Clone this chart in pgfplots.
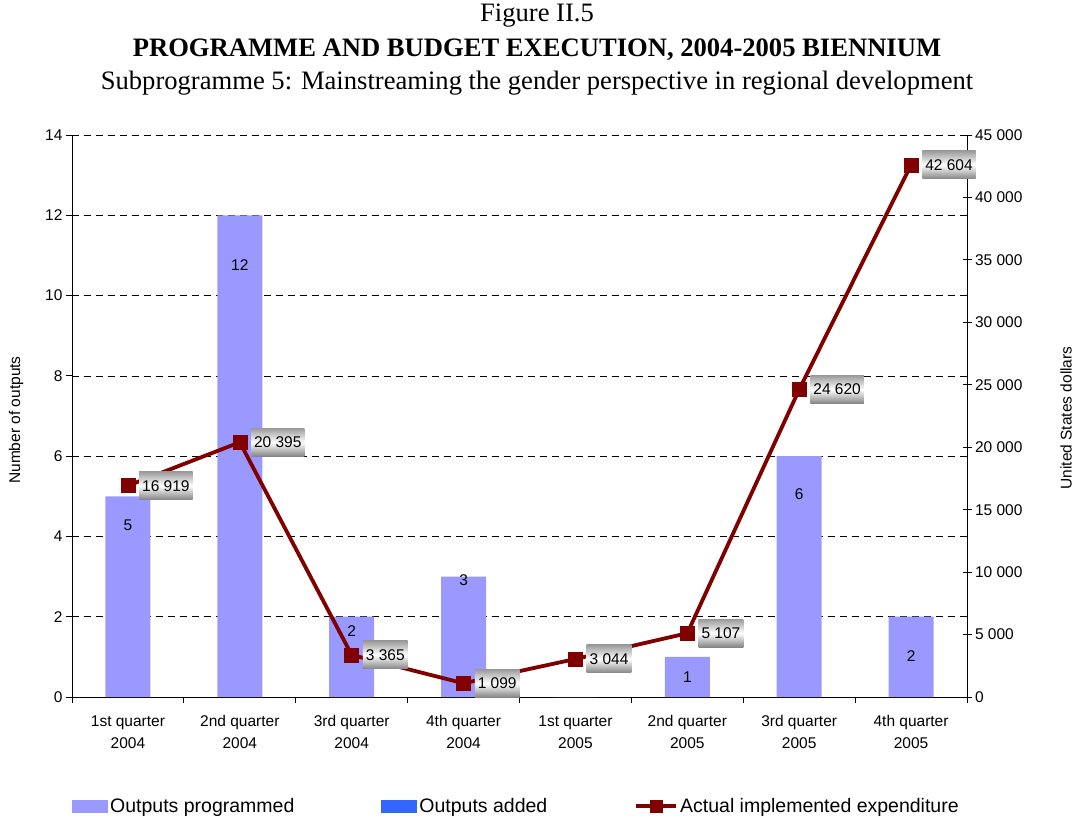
\documentclass[border=0pt]{standalone}
\usepackage{fontspec}
\setmainfont{Liberation Sans}
\newfontfamily\timesfont{Liberation Serif}
\usepackage{pgfplots}
\pgfplotsset{compat=1.18}
\definecolor{barprog}{RGB}{153,153,255}
\definecolor{baradd}{RGB}{51,102,255}
\definecolor{linered}{RGB}{128,0,0}
\definecolor{boxgray}{RGB}{155,155,155}
\newcommand\axfont{\fontsize{15.5bp}{18bp}\selectfont}
\pgfplotsset{
  boxlegend/.style={legend image code/.code={\fill[##1] (0bp,-6.5bp) rectangle (36bp,6.5bp);}},
  linelegend/.style={legend image code/.code={\draw[mark repeat=2,mark phase=2,##1] plot coordinates {(0bp,0bp) (20bp,0bp) (40bp,0bp)};}},
}
\begin{document}
\begin{tikzpicture}
\useasboundingbox (-72bp,-121bp) rectangle (1002bp,697bp);
\begin{axis}[
  at={(0,0)}, anchor=south west,
  scale only axis, width=895bp, height=562bp,
  xmin=-0.5, xmax=7.5, ymin=0, ymax=14,
  axis y line*=left, axis x line*=bottom,
  axis line style={-, line width=0.8bp},
  xtick={-0.5,0.5,...,7.5},
  xticklabels={,,,,,,,,,},
  extra x ticks={0,1,2,3,4,5,6,7},
  extra x tick labels={{1st quarter\\2004},{2nd quarter\\2004},{3rd quarter\\2004},{4th quarter\\2004},{1st quarter\\2005},{2nd quarter\\2005},{3rd quarter\\2005},{4th quarter\\2005}},
  extra x tick style={tick style={draw=none}},
  xticklabel style={align=center, yshift=-9bp, font=\fontsize{15.5bp}{22bp}\selectfont},
  ytick={0,2,...,14},
  yticklabel style={font=\axfont},
  /pgf/number format/assume math mode=true,
  tick align=outside, major tick length=6bp,
  tick style={line width=0.8bp, black},
  ymajorgrids,
  major grid style={black, line width=0.7bp, dash pattern=on 7bp off 5bp},
  legend columns=3,
  legend cell align=left,
  legend style={at={(0,-0.194)}, anchor=west, draw=none, fill=none, inner sep=0pt,
    font=\fontsize{19.5bp}{22bp}\selectfont,
    /tikz/every even column/.append style={column sep=85bp}},
  clip=false,
]
\addplot[ybar, bar width=45bp, fill=barprog, draw=none, boxlegend]
  coordinates {(0,5) (1,12) (2,2) (3,3) (4,0) (5,1) (6,6) (7,2)};
\addlegendentry{Outputs programmed}
\addlegendimage{boxlegend, fill=baradd, draw=none}
\addlegendentry{Outputs added}
\addlegendimage{linelegend, linered, line width=3.8bp, mark=square*, mark size=6bp, mark options={line width=0.5bp}}
\addlegendentry{Actual implemented expenditure}
\addplot[forget plot, draw=none, mark=none, nodes near coords, point meta=explicit symbolic,
  every node near coord/.append style={anchor=center, font=\axfont, text=black}]
  coordinates {(0,4.28)[5] (1,10.76)[12] (2,1.64)[2] (3,2.91)[3] (5,0.5)[1] (6,5.06)[6] (7,1.02)[2]};
\end{axis}
\begin{axis}[
  at={(0,0)}, anchor=south west,
  scale only axis, width=895bp, height=562bp,
  xmin=-0.5, xmax=7.5, ymin=0, ymax=45000,
  axis y line*=right, axis x line=none,
  axis line style={-, line width=0.8bp},
  ytick={0,5000,...,45000},
  scaled y ticks=false,
  yticklabel style={font=\axfont},
  /pgf/number format/1000 sep={\ },
  /pgf/number format/assume math mode=true,
  tick align=center, major tick length=9bp,
  tick style={line width=0.8bp, black},
  clip=false,
]
\addplot[linered, line width=3.8bp, mark=square*, mark size=7bp, mark options={line width=0.5bp},
  nodes near coords, point meta=explicit symbolic,
  every node near coord/.append style={anchor=west, xshift=11bp, font=\axfont, text=black,
    top color=boxgray, bottom color=boxgray!85!black, middle color=white,
    inner xsep=3bp, inner ysep=0pt, minimum height=28bp}]
  coordinates {(0,16919)[16 919] (1,20395)[20 395] (2,3365)[3 365] (3,1099)[1 099]
               (4,3044)[3 044] (5,5107)[5 107] (6,24620)[24 620] (7,42604)[42 604]};
\end{axis}
\node[rotate=90, font=\axfont] at (-56bp,277bp) {Number of outputs};
\node[rotate=90, font=\axfont] at (994bp,279bp) {United States dollars};
\node[anchor=base, font=\timesfont\fontsize{26.6bp}{30bp}\selectfont] at (465bp,675bp) {Figure II.5};
\node[anchor=base, font=\timesfont\bfseries\fontsize{26.6bp}{30bp}\selectfont] at (465bp,640bp) {PROGRAMME AND BUDGET EXECUTION, 2004-2005 BIENNIUM};
\node[anchor=base, font=\timesfont\fontsize{26.6bp}{30bp}\selectfont] at (465bp,607bp) {Subprogramme 5: Mainstreaming the gender perspective in regional development};
\end{tikzpicture}
\end{document}
